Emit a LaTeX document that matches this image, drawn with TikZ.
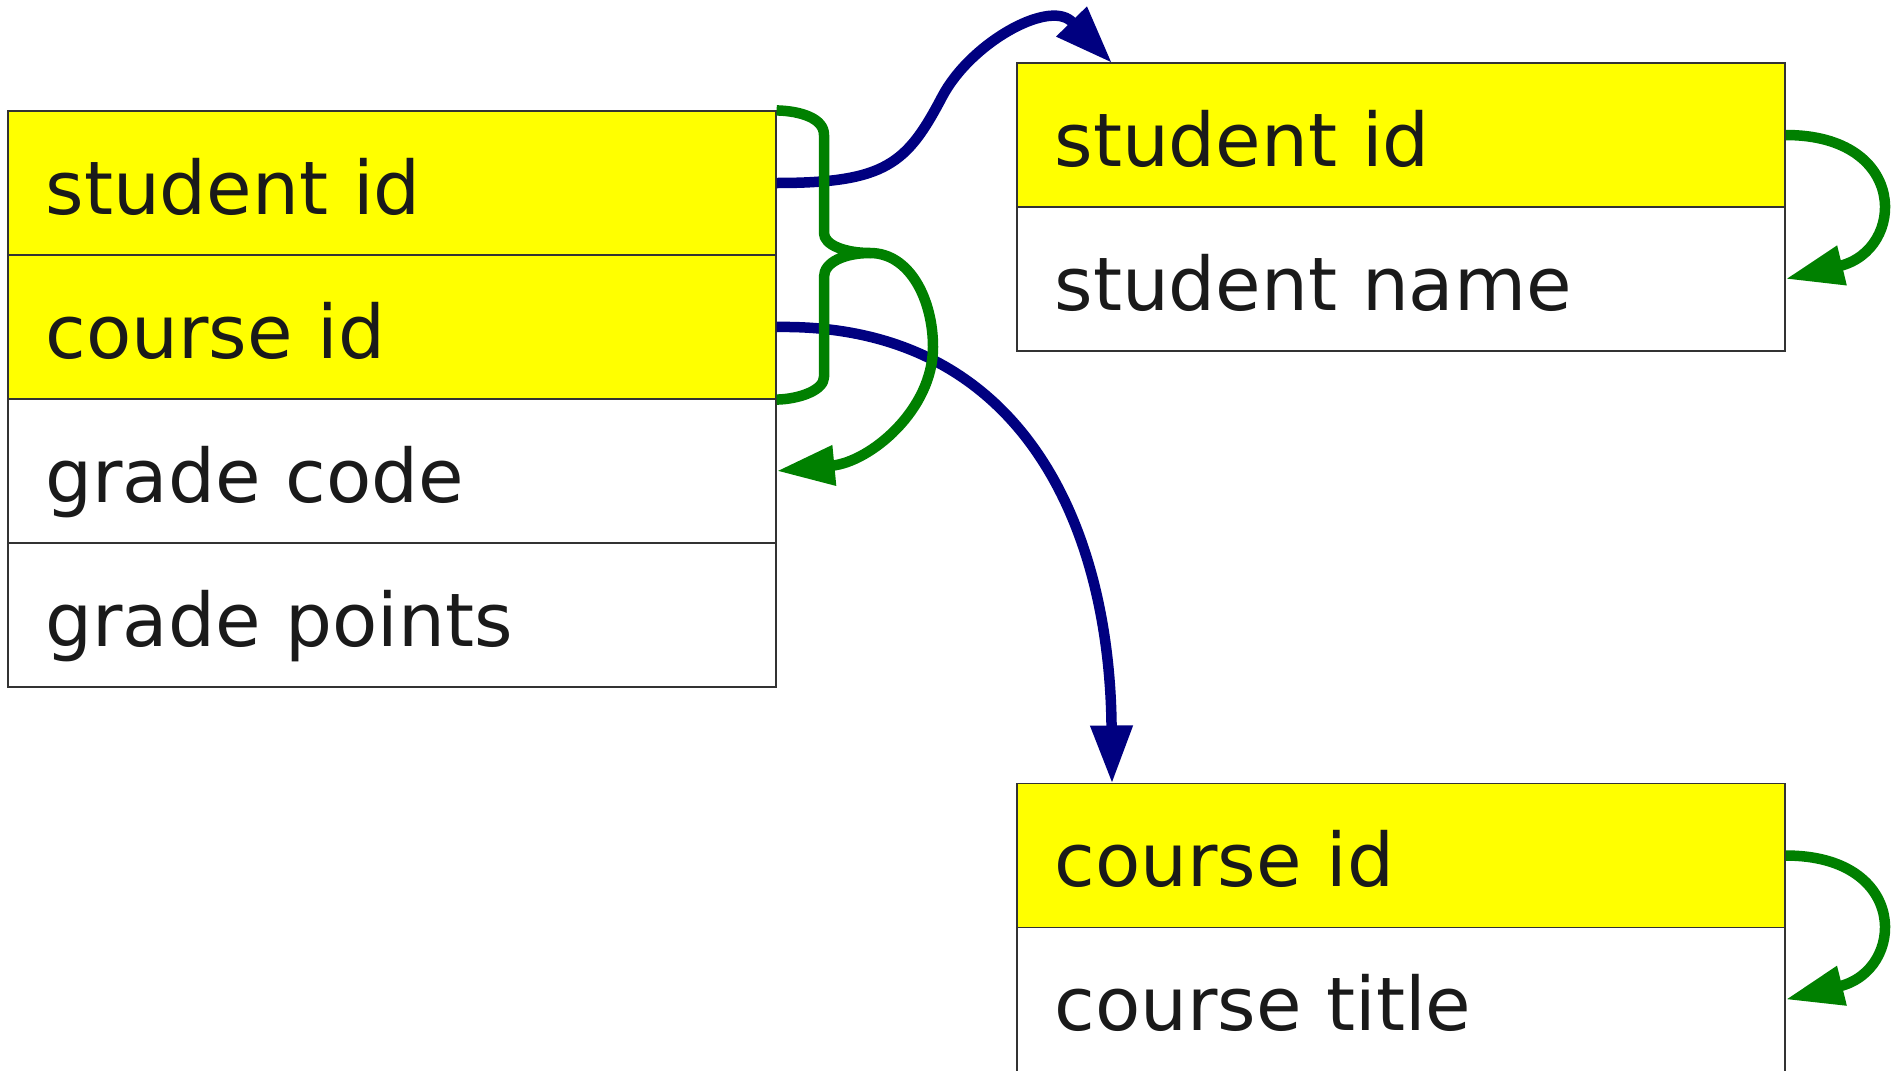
\documentclass[tikz,border=0pt]{standalone}
\usepackage{fontspec}
\setmainfont{DejaVu Sans}
\usetikzlibrary{arrows.meta}
\definecolor{rowyellow}{HTML}{FFFF00}
\definecolor{fkblue}{HTML}{000080}
\definecolor{fdgreen}{HTML}{008000}
\definecolor{txtgray}{HTML}{1A1A1A}
\definecolor{edgegray}{HTML}{333333}
\tikzset{
  tablerow/.style={draw=edgegray, line width=0.6pt, rectangle, fill=white,
    text width=346.5pt, align=left, inner xsep=18.75pt, inner ysep=0pt,
    minimum height=72pt, text height=31pt, text depth=0pt,
    font=\fontsize{37}{40}\selectfont, text=txtgray},
  keyrow/.style={tablerow, fill=rowyellow},
  fklink/.style={draw=fkblue, line width=5.25pt, -{Triangle[length=29pt,width=20pt]}},
  fdlink/.style={draw=fdgreen, line width=5.25pt, -{Triangle[length=29pt,width=19pt]}},
  fdbrace/.style={draw=fdgreen, line width=5.25pt}
}
\begin{document}
\begin{tikzpicture}[x=0.5pt,y=-0.5pt]
\useasboundingbox (0,0) rectangle (1896,1071);
% left table
\node[keyrow]   (Lsid)  at (392,183) {student id};
\node[keyrow]   (Lcid)  at (392,327) {course id};
\node[tablerow] (Lgc)   at (392,471) {grade code};
\node[tablerow] (Lgp)   at (392,615) {grade points};
% right top table
\node[keyrow]   (Ssid)  at (1401,135) {student id};
\node[tablerow] (Ssn)   at (1401,279) {student name};
% right bottom table
\node[keyrow]   (Ccid)  at (1401,855.5) {course id};
\node[tablerow] (Cct)   at (1401,999.5) {course title};
% named points
\coordinate (ssidtop) at (1112,63);
\coordinate (ccidtop) at (1112,783.5);
\coordinate (bracetip) at (870,253);
% blue foreign key links
\draw[fklink, line join=round] (Lsid.east) .. controls (886,183) and (907,163.5) .. (942,97)
   .. controls (969.8,43.8) and (1047,0) .. (1071,21) -- (ssidtop);
\draw[fklink] (Lcid.east) .. controls (1026,323) and (1110,532) .. (ccidtop);
% green brace over the key
\draw[fdbrace, line join=round] (Lsid.north east) .. controls (800,111) and (824,118) .. (824,135)
   -- (824,233) .. controls (824,245) and (845,253) .. (bracetip)
   .. controls (845,253) and (824,262) .. (824,277)
   -- (824,377) .. controls (824,390) and (800,399) .. (Lcid.south east);
\draw[fdlink] (bracetip) .. controls (910,253) and (933,300) .. (933,347)
   .. controls (933,410) and (870,462) .. (Lgc.east);
% green self links
\draw[fdlink] (Ssid.east) .. controls (1909,135) and (1906,250) .. (Ssn.east);
\draw[fdlink] (Ccid.east) .. controls (1909,855.5) and (1906,970) .. (Cct.east);
\end{tikzpicture}
\end{document}
